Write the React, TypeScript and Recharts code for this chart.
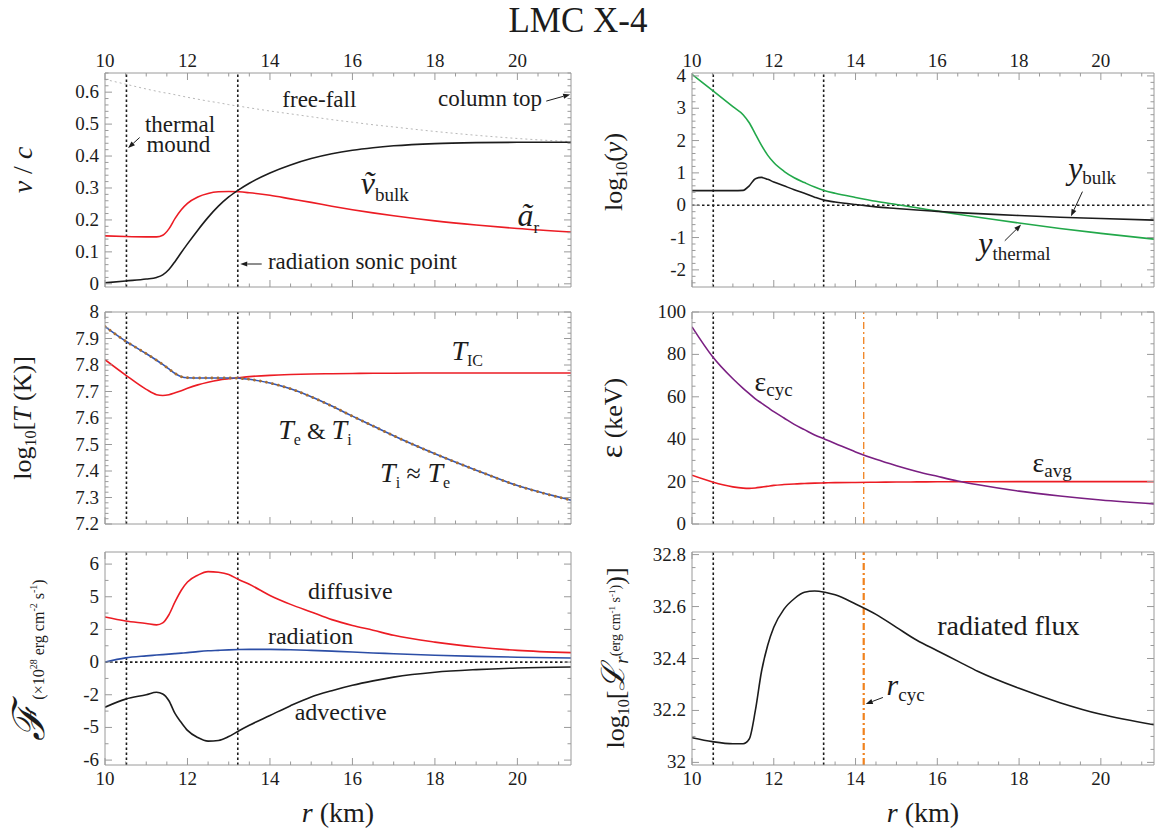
import React from 'react'
import { LineChart, Line, XAxis, YAxis, ReferenceLine, ReferenceDot } from 'recharts'

const SERIF = '"Liberation Serif", "DejaVu Serif", serif'
const FRAME = '#9a9a9a'
const INK = '#1c1c1c'
const RED = '#ec1c24'

// radius grid, km
const radius = [10, 10.5, 11, 11.25, 11.4, 11.55, 11.7, 11.85, 12, 12.25, 12.5, 12.75, 13, 13.25, 13.5, 14, 14.5, 15, 15.5, 16, 16.5, 17, 18, 19, 20, 21.3]

// v / c
const freeFall = [0.64, 0.625, 0.61, 0.603, 0.599, 0.596, 0.592, 0.588, 0.584, 0.578, 0.572, 0.567, 0.561, 0.556, 0.551, 0.541, 0.532, 0.523, 0.514, 0.506, 0.498, 0.491, 0.477, 0.465, 0.455, 0.445]
const vBulk = [0.003, 0.009, 0.015, 0.02, 0.028, 0.045, 0.07, 0.098, 0.125, 0.168, 0.208, 0.243, 0.272, 0.295, 0.315, 0.347, 0.372, 0.392, 0.407, 0.418, 0.426, 0.432, 0.439, 0.442, 0.443, 0.443]
const aRad = [0.15, 0.148, 0.147, 0.147, 0.152, 0.172, 0.205, 0.232, 0.252, 0.272, 0.283, 0.288, 0.289, 0.288, 0.285, 0.277, 0.266, 0.255, 0.243, 0.232, 0.222, 0.213, 0.197, 0.184, 0.173, 0.162]

// log10(y)
const yThermal = [4.05, 3.55, 3.05, 2.8, 2.55, 2.2, 1.85, 1.55, 1.32, 1.05, 0.85, 0.7, 0.56, 0.45, 0.37, 0.24, 0.12, 0.02, -0.08, -0.18, -0.28, -0.37, -0.55, -0.72, -0.87, -1.05]
const yBulk = [0.45, 0.45, 0.45, 0.46, 0.6, 0.82, 0.86, 0.8, 0.72, 0.6, 0.48, 0.37, 0.25, 0.15, 0.1, 0.02, -0.05, -0.1, -0.15, -0.19, -0.23, -0.26, -0.32, -0.37, -0.41, -0.46]

// log10 T
const tempE = [7.945, 7.89, 7.843, 7.818, 7.802, 7.785, 7.768, 7.756, 7.752, 7.751, 7.751, 7.751, 7.751, 7.75, 7.746, 7.732, 7.71, 7.68, 7.645, 7.607, 7.57, 7.533, 7.465, 7.403, 7.345, 7.29]
const tempI = [7.945, 7.89, 7.843, 7.818, 7.802, 7.785, 7.768, 7.756, 7.752, 7.751, 7.751, 7.751, 7.751, 7.75, 7.746, 7.732, 7.71, 7.68, 7.645, 7.607, 7.57, 7.533, 7.465, 7.403, 7.345, 7.29]
const tempIC = [7.82, 7.762, 7.708, 7.688, 7.685, 7.688, 7.695, 7.703, 7.712, 7.725, 7.735, 7.743, 7.748, 7.752, 7.756, 7.761, 7.764, 7.766, 7.767, 7.768, 7.769, 7.769, 7.77, 7.77, 7.77, 7.77]

// energy, keV
const eCyc = [93, 79, 68.5, 64, 61.5, 59, 57, 55, 53, 50, 47, 44.5, 42, 40, 38, 34, 30.5, 27.5, 24.8, 22.5, 20.3, 18.5, 15.5, 13.2, 11.3, 9.5]
const eAvg = [23, 19.8, 17.5, 16.9, 16.8, 17, 17.4, 17.8, 18.2, 18.6, 18.9, 19.1, 19.3, 19.4, 19.5, 19.6, 19.7, 19.8, 19.85, 19.9, 19.9, 19.95, 20, 20, 20, 20]

// flux, 1e28 erg cm^-2 s^-1
const fluxDiffusive = [3.14, 2.78, 2.55, 2.42, 2.6, 3.35, 4.55, 5.2, 5.45, 5.66, 5.77, 5.75, 5.68, 5.52, 5.38, 5.04, 4.3, 3.6, 2.9, 2.36, 1.95, 1.64, 1.22, 0.92, 0.72, 0.58]
const fluxRadiation = [0, 0.26, 0.38, 0.43, 0.46, 0.49, 0.52, 0.55, 0.58, 0.64, 0.69, 0.72, 0.75, 0.77, 0.78, 0.78, 0.76, 0.72, 0.67, 0.62, 0.56, 0.51, 0.42, 0.35, 0.3, 0.25]
const fluxAdvective = [-3.14, -2.4, -2.0, -1.85, -1.95, -2.55, -3.74, -4.55, -5.09, -5.31, -5.42, -5.4, -5.28, -5.1, -4.8, -3.9, -3.0, -2.2, -1.75, -1.42, -1.15, -0.92, -0.62, -0.46, -0.36, -0.3]

// log10 L_r
const logRadiated = [32.095, 32.08, 32.072, 32.072, 32.09, 32.2, 32.35, 32.45, 32.52, 32.59, 32.63, 32.655, 32.66, 32.655, 32.645, 32.61, 32.57, 32.52, 32.47, 32.43, 32.39, 32.35, 32.285, 32.23, 32.185, 32.145]

const rMound = 10.52
const rSonic = 13.22
const rCyc = 14.2

const xDomain: [number, number] = [10, 21.3]
const xMajor = [10, 12, 14, 16, 18, 20]
const xLabels = ['10', '12', '14', '16', '18', '20']

const velMajor = [0, 0.1, 0.2, 0.3, 0.4, 0.5, 0.6]
const velLabels = ['0', '0.1', '0.2', '0.3', '0.4', '0.5', '0.6']
const comptMajor = [-2, -1, 0, 1, 2, 3, 4]
const comptLabels = ['-2', '-1', '0', '1', '2', '3', '4']
const tempMajor = [7.2, 7.3, 7.4, 7.5, 7.6, 7.7, 7.8, 7.9, 8]
const tempLabels = ['7.2', '7.3', '7.4', '7.5', '7.6', '7.7', '7.8', '7.9', '8']
const energyMajor = [0, 20, 40, 60, 80, 100]
const energyLabels = ['0', '20', '40', '60', '80', '100']
const fluxTickValues = [-6, -5, -2, 0, 2, 5, 6]
const lumMajor = [32, 32.2, 32.4, 32.6, 32.8]
const lumLabels = ['32', '32.2', '32.4', '32.6', '32.8']

// the flux axis is stretched: its labelled values sit at equal steps
function fluxLevel(v: number) {
  const a = Math.abs(v)
  const l = a <= 2 ? a / 2 : a <= 5 ? 1 + (a - 2) / 3 : 2 + (a - 5)
  return Math.sign(v) * l
}

function steps(a: number, b: number, s: number) {
  const out: number[] = []
  for (let v = a; v <= b + 1e-9; v += s) out.push(Math.round(v * 1000) / 1000)
  return out
}

const rows = radius.map((r, i) => ({
  r,
  freeFall: freeFall[i],
  vBulk: vBulk[i],
  aRad: aRad[i],
  yThermal: yThermal[i],
  yBulk: yBulk[i],
  tempE: tempE[i],
  tempI: tempI[i],
  tempIC: tempIC[i],
  eCyc: eCyc[i],
  eAvg: eAvg[i],
  diffusive: fluxLevel(fluxDiffusive[i]),
  radiation: fluxLevel(fluxRadiation[i]),
  advective: fluxLevel(fluxAdvective[i]),
  logRadiated: logRadiated[i],
}))

type Side = 'bottom' | 'top' | 'left' | 'right'

function tickFor(side: Side, majors: number[], labels: string[] | null) {
  return (p: any) => {
    const { x, y, payload } = p
    const v = payload.value as number
    const i = majors.findIndex((m) => Math.abs(m - v) < 1e-6)
    const len = i >= 0 ? 7 : 3.5
    const dx = side === 'left' ? len : side === 'right' ? -len : 0
    const dy = side === 'bottom' ? -len : side === 'top' ? len : 0
    const lab = labels && i >= 0 ? labels[i] : null
    return (
      <g>
        <line x1={x} y1={y} x2={x + dx} y2={y + dy} stroke={FRAME} strokeWidth={1} />
        {lab !== null && (
          <text
            x={side === 'left' ? x - 6 : x}
            y={side === 'bottom' ? y + 20 : side === 'top' ? y - 6 : y + 6}
            textAnchor={side === 'left' ? 'end' : 'middle'}
            fontFamily={SERIF}
            fontSize={19}
            fill={INK}
          >
            {lab}
          </text>
        )}
      </g>
    )
  }
}

type Box = { x: number; y: number; w: number; h: number }

function Panel({
  box,
  yDomain,
  yMajor,
  yLabels,
  yStep,
  xSide,
  children,
}: {
  box: Box
  yDomain: [number, number]
  yMajor: number[]
  yLabels: string[]
  yStep: number
  xSide: 'top' | 'bottom' | 'none'
  children: React.ReactNode
}) {
  const M = 50
  const m = M - 1 // each axis band is 1px wide
  const xTicks = steps(10, 21, 0.5)
  const yTicks = steps(Math.ceil(yDomain[0] / yStep) * yStep, yDomain[1], yStep)
  const axisCommon = { type: 'number' as const, allowDataOverflow: true, interval: 0, tickSize: 0, tickMargin: 0, tickLine: false, axisLine: { stroke: FRAME } }
  return (
    <div style={{ position: 'absolute', left: box.x - M, top: box.y - M }}>
      <LineChart width={box.w + 2 * M} height={box.h + 2 * M} data={rows} margin={{ top: m, right: m, bottom: m, left: m }}>
        <XAxis xAxisId="b" dataKey="r" domain={xDomain} ticks={xTicks} height={1} {...axisCommon} tick={tickFor('bottom', xMajor, xSide === 'bottom' ? xLabels : null)} />
        <XAxis xAxisId="t" dataKey="r" orientation="top" domain={xDomain} ticks={xTicks} height={1} {...axisCommon} tick={tickFor('top', xMajor, xSide === 'top' ? xLabels : null)} />
        <YAxis yAxisId="l" domain={yDomain} ticks={yTicks} width={1} {...axisCommon} tick={tickFor('left', yMajor, yLabels)} />
        <YAxis yAxisId="r" orientation="right" domain={yDomain} ticks={yTicks} width={1} {...axisCommon} tick={tickFor('right', yMajor, null)} />
        {children}
      </LineChart>
    </div>
  )
}

const vline = (key: string, x: number, color = INK, dash = '2.5 2.5', w = 1.6) => (
  <ReferenceLine key={key} xAxisId="b" yAxisId="l" x={x} stroke={color} strokeDasharray={dash} strokeWidth={w} />
)

const hzero = (key: string) => (
  <ReferenceLine key={key} xAxisId="b" yAxisId="l" y={0} stroke={INK} strokeDasharray="2.5 2.5" strokeWidth={1.6} />
)

const note = (key: string, x: number, y: number, content: React.ReactNode, size = 23, anchor: 'start' | 'middle' | 'end' = 'start') => (
  <ReferenceDot
    key={key}
    xAxisId="b"
    yAxisId="l"
    x={x}
    y={y}
    r={0}
    ifOverflow="visible"
    shape={(p: any) => (
      <text x={p.cx} y={p.cy} textAnchor={anchor} fontFamily={SERIF} fontSize={size} fill={INK}>
        {content}
      </text>
    )}
  />
)

function ArrowShape(p: any) {
  const { x1, y1, x2, y2 } = p
  const a = Math.atan2(y2 - y1, x2 - x1)
  const L = 7
  const W = 2.6
  const bx = x2 - L * Math.cos(a)
  const by = y2 - L * Math.sin(a)
  const pts = `${x2},${y2} ${bx + W * Math.sin(a)},${by - W * Math.cos(a)} ${bx - W * Math.sin(a)},${by + W * Math.cos(a)}`
  return (
    <g>
      <line x1={x1} y1={y1} x2={bx} y2={by} stroke={INK} strokeWidth={1} />
      <polygon points={pts} fill={INK} />
    </g>
  )
}

const arrow = (key: string, from: [number, number], to: [number, number]) => (
  <ReferenceLine
    key={key}
    xAxisId="b"
    yAxisId="l"
    ifOverflow="visible"
    segment={[{ x: from[0], y: from[1] }, { x: to[0], y: to[1] }]}
    shape={(p: any) => <ArrowShape {...p} />}
  />
)

const line = (key: string, color: string, w = 1.6, dash?: string, cap: 'butt' | 'round' = 'butt') => (
  <Line
    key={key}
    xAxisId="b"
    yAxisId="l"
    dataKey={key}
    type="monotone"
    stroke={color}
    strokeWidth={w}
    strokeDasharray={dash}
    strokeLinecap={cap}
    dot={false}
    activeDot={false}
    isAnimationActive={false}
  />
)

// a symbol with a subscript after it
const subbed = (sym: string, s: string, symSize: number, subSize: number, shift: number, italic = true) => [
  <tspan key="sym" fontStyle={italic ? 'italic' : 'normal'} fontSize={symSize}>
    {sym}
  </tspan>,
  <tspan key="sub" fontSize={subSize} dy={shift}>
    {s}
  </tspan>,
]

const LEFT = { x: 105, w: 466 }
const RIGHT = { x: 692, w: 462 }
const ROW = [
  { y: 73, h: 214 },
  { y: 312, h: 212 },
  { y: 552, h: 213 },
]

export default function App() {
  return (
    <div style={{ position: 'absolute', left: 0, top: 0, width: 1156, height: 833, background: '#fff', overflow: 'hidden' }}>
      <Panel box={{ ...LEFT, ...ROW[0] }} yDomain={[-0.01, 0.66]} yMajor={velMajor} yLabels={velLabels} yStep={0.02} xSide="top">
        {vline('m', rMound)}
        {vline('s', rSonic)}
        {line('freeFall', '#b8b8b8', 1, '2 3')}
        {line('aRad', RED)}
        {line('vBulk', INK)}
        {note('ff', 14.3, 0.553, 'free-fall')}
        {note('ct', 20.6, 0.556, 'column top', 23, 'end')}
        {arrow('cta', [20.7, 0.572], [21.28, 0.593])}
        {note('th', 11.82, 0.474, 'thermal', 23, 'middle')}
        {note('mo', 11.78, 0.414, 'mound', 23, 'middle')}
        {arrow('moa', [10.84, 0.458], [10.56, 0.425])}
        {note('vb', 16.2, 0.28, subbed('ṽ', 'bulk', 32, 19, 7))}
        {note('ar', 20.0, 0.18, subbed('ã', 'r', 32, 17, 7))}
        {note('rs', 13.95, 0.045, 'radiation sonic point')}
        {arrow('rsa', [13.8, 0.062], [13.28, 0.062])}
      </Panel>

      <Panel box={{ ...RIGHT, ...ROW[0] }} yDomain={[-2.53, 4.09]} yMajor={comptMajor} yLabels={comptLabels} yStep={0.2} xSide="top">
        {vline('m', rMound)}
        {vline('s', rSonic)}
        {hzero('z')}
        {line('yThermal', '#22a84a')}
        {line('yBulk', INK)}
        {note('yb', 19.2, 0.8, subbed('y', 'bulk', 32, 19, 5))}
        {arrow('yba', [19.55, 0.42], [19.27, -0.34])}
        {note('yt', 17.0, -1.5, subbed('y', 'thermal', 32, 19, 6))}
        {arrow('yta', [17.65, -1.1], [18.05, -0.6])}
      </Panel>

      <Panel box={{ ...LEFT, ...ROW[1] }} yDomain={[7.2, 8.0]} yMajor={tempMajor} yLabels={tempLabels} yStep={0.02} xSide="none">
        {vline('m', rMound)}
        {vline('s', rSonic)}
        {line('tempIC', RED)}
        {line('tempE', '#3056b8', 1.6)}
        {line('tempI', '#a86e30', 2.8, '0.1 6', 'round')}
        {note('tic', 18.4, 7.82, subbed('T', 'IC', 28, 16, 6))}
        {note('tei', 14.2, 7.52, [
          <tspan key="t1" fontStyle="italic" fontSize={28}>T</tspan>,
          <tspan key="e" fontSize={16} dy={6}>e</tspan>,
          <tspan key="amp" fontSize={24} dy={-6}>{' & '}</tspan>,
          <tspan key="t2" fontStyle="italic" fontSize={28}>T</tspan>,
          <tspan key="i" fontSize={16} dy={6}>i</tspan>,
        ])}
        {note('tie', 16.67, 7.36, [
          <tspan key="t1" fontStyle="italic" fontSize={28}>T</tspan>,
          <tspan key="i" fontSize={16} dy={6}>i</tspan>,
          <tspan key="ap" fontSize={26} dy={-6}>{' ≈ '}</tspan>,
          <tspan key="t2" fontStyle="italic" fontSize={28}>T</tspan>,
          <tspan key="e" fontSize={16} dy={6}>e</tspan>,
        ])}
      </Panel>

      <Panel box={{ ...RIGHT, ...ROW[1] }} yDomain={[0, 100]} yMajor={energyMajor} yLabels={energyLabels} yStep={5} xSide="none">
        {vline('m', rMound)}
        {vline('s', rSonic)}
        {vline('c', rCyc, '#f0821e', '7 3 2 3', 1.3)}
        {line('eAvg', RED)}
        {line('eCyc', '#7a1f82')}
        {note('ec', 11.53, 62.7, subbed('ε', 'cyc', 28, 19, 5, false))}
        {note('ea', 18.33, 24.6, subbed('ε', 'avg', 28, 19, 5, false))}
      </Panel>

      <Panel box={{ ...LEFT, ...ROW[2] }} yDomain={[-3.15, 3.37]} yMajor={fluxTickValues.map(fluxLevel)} yLabels={fluxTickValues.map(String)} yStep={0.5} xSide="bottom">
        {vline('m', rMound)}
        {vline('s', rSonic)}
        {hzero('z')}
        {line('diffusive', RED)}
        {line('radiation', '#2c4ea6')}
        {line('advective', INK)}
        {note('df', 14.92, 1.93, 'diffusive', 24)}
        {note('rd', 13.95, 0.56, 'radiation', 24)}
        {note('ad', 14.6, -1.78, 'advective', 24)}
      </Panel>

      <Panel box={{ ...RIGHT, ...ROW[2] }} yDomain={[31.99, 32.81]} yMajor={lumMajor} yLabels={lumLabels} yStep={0.05} xSide="bottom">
        {vline('m', rMound)}
        {vline('s', rSonic)}
        {vline('c', rCyc, '#f0821e', '7 3 2 3', 2.2)}
        {line('logRadiated', INK)}
        {note('rf', 16.0, 32.49, 'radiated flux', 28)}
        {note('rc', 14.76, 32.26, subbed('r', 'cyc', 30, 19, 6))}
        {arrow('rca', [14.67, 32.25], [14.25, 32.225])}
      </Panel>

      <svg width={1156} height={833} style={{ position: 'absolute', left: 0, top: 0, pointerEvents: 'none' }} fontFamily={SERIF} fill={INK}>
        <text x={578} y={32} textAnchor="middle" fontSize={35}>
          LMC X-4
        </text>

        <text transform="rotate(-90 32 170)" x={32} y={170} textAnchor="middle" fontSize={28}>
          <tspan fontStyle="italic">v</tspan> / <tspan fontStyle="italic">c</tspan>
        </text>
        <text transform="rotate(-90 31 418)" x={31} y={418} textAnchor="middle" fontSize={26}>
          log<tspan fontSize={16} dy={5}>10</tspan>
          <tspan dy={-5}>[</tspan>
          <tspan fontStyle="italic">T</tspan> (K)]
        </text>
        <text transform="rotate(-90 44 660)" x={44} y={660} textAnchor="middle">
          <tspan fontSize={44} fontStyle="italic">ℱ</tspan>
          <tspan fontSize={16} dx={5}>(×10</tspan>
          <tspan fontSize={10} dy={-7}>28</tspan>
          <tspan fontSize={16} dy={7}> erg cm</tspan>
          <tspan fontSize={10} dy={-7}>-2</tspan>
          <tspan fontSize={16} dy={7}> s</tspan>
          <tspan fontSize={10} dy={-7}>-1</tspan>
          <tspan fontSize={16} dy={7}>)</tspan>
        </text>

        <text transform="rotate(-90 622 172)" x={622} y={172} textAnchor="middle" fontSize={26}>
          log<tspan fontSize={16} dy={5}>10</tspan>
          <tspan dy={-5}>(</tspan>
          <tspan fontStyle="italic">y</tspan>)
        </text>
        <text transform="rotate(-90 622 418)" x={622} y={418} textAnchor="middle" fontSize={26}>
          <tspan fontSize={32}>ε</tspan> (keV)
        </text>
        <text transform="rotate(-90 624 658)" x={624} y={658} textAnchor="middle" fontSize={26}>
          log<tspan fontSize={16} dy={5}>10</tspan>
          <tspan dy={-5}>[</tspan>
          <tspan fontStyle="italic" fontSize={32}>ℒ</tspan>
          <tspan fontStyle="italic" fontSize={19} dy={4}>r</tspan>
          <tspan fontSize={14} dy={-8}>(erg cm</tspan>
          <tspan fontSize={9} dy={-5}>-1</tspan>
          <tspan fontSize={14} dy={5}> s</tspan>
          <tspan fontSize={9} dy={-5}>-1</tspan>
          <tspan fontSize={14} dy={5}>)</tspan>
          <tspan dy={4}>)]</tspan>
        </text>

        <text x={338} y={822} textAnchor="middle" fontSize={28}>
          <tspan fontStyle="italic">r</tspan> (km)
        </text>
        <text x={923} y={822} textAnchor="middle" fontSize={28}>
          <tspan fontStyle="italic">r</tspan> (km)
        </text>
      </svg>
    </div>
  )
}
